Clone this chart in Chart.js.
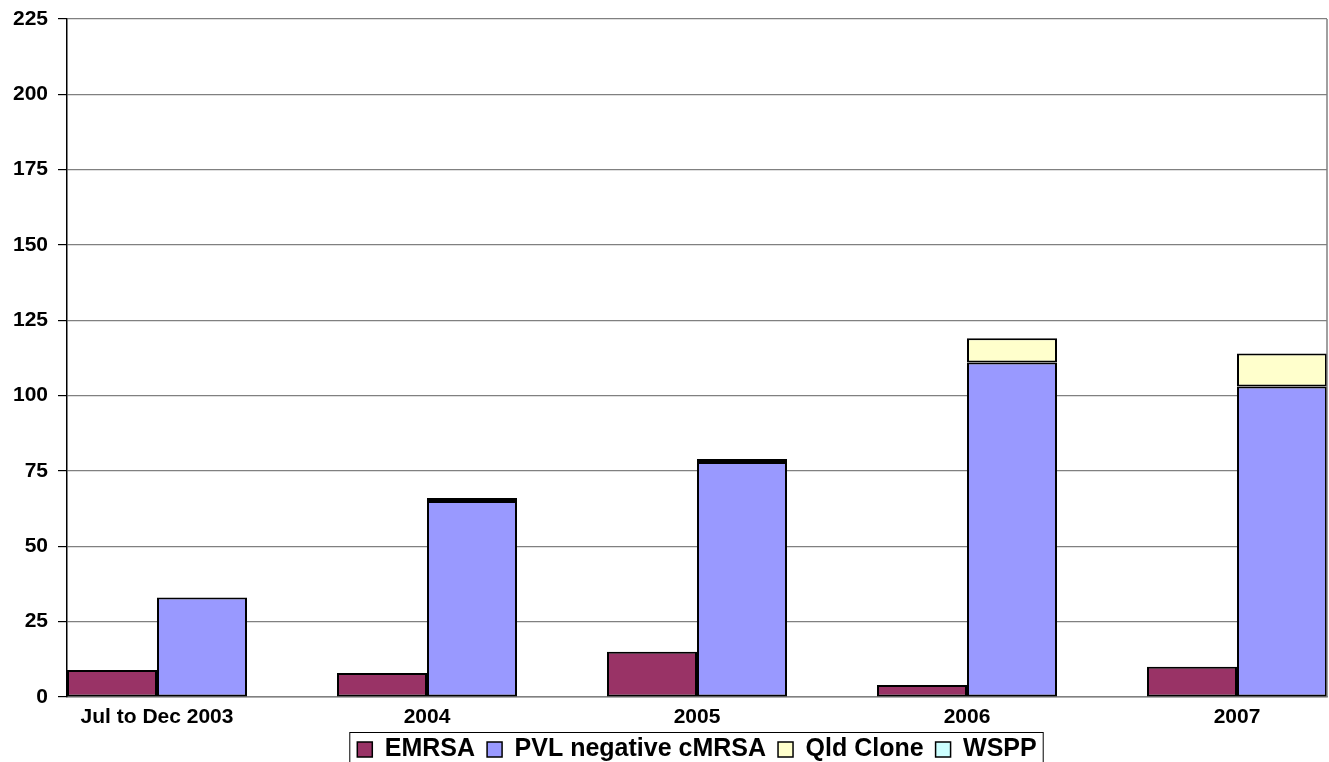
<!DOCTYPE html>
<html>
<head>
<meta charset="utf-8">
<script src="https://cdn.jsdelivr.net/npm/chart.js@4.4.0/dist/chart.umd.min.js"></script>
<style>
  html, body { margin: 0; padding: 0; background: #fff; overflow: hidden; }
  #wrap { width: 1329px; height: 772px; }
</style>
</head>
<body>
<div id="wrap"><canvas id="chart"></canvas></div>
<script>
// Categorias e valores
const categories = ['Jul to Dec 2003', '2004', '2005', '2006', '2007'];
const emrsa = [9, 8, 15, 4, 10];
const pvlNegative = [33, 65, 78, 111, 103];
const qldClone = [0, 1, 1, 8, 11];
const wspp = [0, 0, 0, 0, 0];
const yTicks = [0, 25, 50, 75, 100, 125, 150, 175, 200, 225];

const FONT = 'Liberation Sans, Arial, sans-serif';

function toPoints(values) {
    return values.map((v, i) => ({ x: i, y: v }));
}

// Moldura da área do gráfico e caixa da legenda
const framePlugin = {
    id: 'frame',
    afterDraw(chart) {
        const ctx = chart.ctx;
        const a = chart.chartArea;
        ctx.save();
        ctx.strokeStyle = '#808080';
        ctx.lineWidth = 1.5;
        ctx.beginPath();
        ctx.moveTo(a.right, a.top);
        ctx.lineTo(a.right, a.bottom);
        ctx.stroke();

        const boxes = chart.legend.legendHitBoxes;
        if (boxes && boxes.length) {
            const left = Math.min(...boxes.map(b => b.left)) - 8;
            const right = Math.max(...boxes.map(b => b.left + b.width)) + 6;
            const top = boxes[0].top - 5;
            ctx.strokeStyle = '#000';
            ctx.lineWidth = 1;
            ctx.strokeRect(left + 0.5, top + 0.5, right - left, 60);
        }
        ctx.restore();
    }
};

const ctx = document.getElementById('chart').getContext('2d');

new Chart(ctx, {
    type: 'bar',
    data: {
        datasets: [
            { label: 'EMRSA', data: toPoints(emrsa), stack: 'a', backgroundColor: '#993366' },
            { label: 'PVL negative cMRSA', data: toPoints(pvlNegative), stack: 'b', backgroundColor: '#9999FF' },
            { label: 'Qld Clone', data: toPoints(qldClone), stack: 'b', backgroundColor: '#FFFFCC' },
            { label: 'WSPP', data: toPoints(wspp), stack: 'b', backgroundColor: '#CCFFFF' }
        ]
    },
    options: {
        responsive: true,
        maintainAspectRatio: false,
        animation: false,
        layout: { padding: { top: 14, right: 2, left: 0, bottom: 0 } },
        datasets: {
            bar: {
                borderColor: '#000',
                // barras com valor zero ficam sem contorno
                borderWidth: c => (c.raw && c.raw.y === 0 ? 0 : 2),
                borderSkipped: false,
                categoryPercentage: 2 / 3,
                barPercentage: 1
            }
        },
        plugins: {
            tooltip: { enabled: false },
            legend: {
                position: 'bottom',
                fullSize: false,
                labels: {
                    color: '#000',
                    font: { family: FONT, size: 25, weight: 'bold' },
                    boxWidth: 15,
                    boxHeight: 15,
                    padding: 12,
                    generateLabels: chart => {
                        const items = Chart.defaults.plugins.legend.labels.generateLabels(chart);
                        items.forEach(it => { it.lineWidth = 1.5; it.strokeStyle = '#000'; });
                        return items;
                    }
                }
            }
        },
        scales: {
            x: {
                type: 'linear',
                offset: false,
                min: -1 / 3,
                max: 4 + 1 / 3,
                afterBuildTicks: axis => {
                    axis.ticks = categories.map((c, i) => ({ value: i }));
                },
                afterFit: axis => { axis.height = 28; },
                grid: { display: false },
                border: { display: true, color: '#808080', width: 1.5 },
                ticks: {
                    color: '#000',
                    padding: 0,
                    maxRotation: 0,
                    autoSkip: false,
                    font: { family: FONT, size: 21, weight: 'bold' },
                    callback: v => categories[v]
                }
            },
            y: {
                stacked: true,
                min: 0,
                max: 225,
                afterBuildTicks: axis => {
                    axis.ticks = yTicks.map(v => ({ value: v }));
                },
                afterFit: axis => { axis.width = 67; },
                grid: { color: '#808080', lineWidth: 1.2, tickLength: 9, tickColor: '#000' },
                border: { display: true, color: '#000', width: 1.5 },
                ticks: {
                    color: '#000',
                    padding: 10,
                    font: { family: FONT, size: 21, weight: 'bold', lineHeight: 0.85 }
                }
            }
        }
    },
    plugins: [framePlugin]
});
</script>
</body>
</html>
